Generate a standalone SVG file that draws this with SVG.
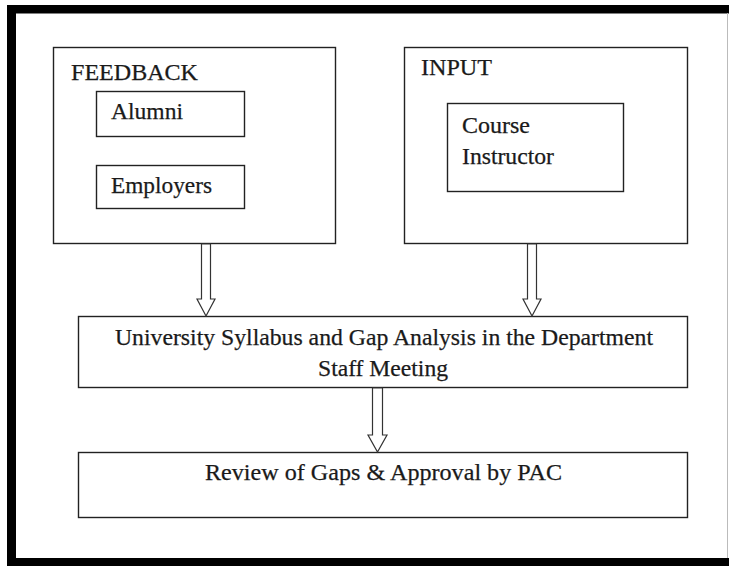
<svg xmlns="http://www.w3.org/2000/svg" width="729" height="566" viewBox="0 0 729 566">
<style>
.box{fill:#fff;stroke:#222;stroke-width:1.4}
.arr{fill:#fff;stroke:#333;stroke-width:1.2;stroke-linejoin:miter}
.t{font-family:'Liberation Serif','Times New Roman',serif;font-size:24px;fill:#1a1a1a;stroke:#1a1a1a;stroke-width:0.25}
</style>
<rect x="0" y="0" width="729" height="566" fill="#fff"/>
<g id="frame">
<rect x="7" y="5" width="9" height="561" fill="#000"/>
<rect x="7" y="5" width="722" height="8.5" fill="#000"/>
<rect x="7" y="558" width="722" height="8" fill="#000"/>
<line x1="727.5" y1="13" x2="727.5" y2="558" stroke="#bbb" stroke-width="1"/>
</g>
<g id="feedback">
<rect class="box" x="53.5" y="47.5" width="282" height="196"/>
<text class="t" x="71" y="80" textLength="127" lengthAdjust="spacingAndGlyphs">FEEDBACK</text>
</g>
<g id="alumni">
<rect class="box" x="96.5" y="91.5" width="148" height="45"/>
<text class="t" x="111" y="119" textLength="72" lengthAdjust="spacingAndGlyphs">Alumni</text>
</g>
<g id="employers">
<rect class="box" x="96.5" y="165.5" width="148" height="43"/>
<text class="t" x="111" y="193" textLength="101" lengthAdjust="spacingAndGlyphs">Employers</text>
</g>
<g id="input">
<rect class="box" x="404.5" y="47.5" width="283" height="196"/>
<text class="t" x="421" y="75" textLength="71" lengthAdjust="spacingAndGlyphs">INPUT</text>
</g>
<g id="course-instructor">
<rect class="box" x="447.5" y="103.5" width="176" height="88"/>
<text class="t" x="462" y="133" textLength="68" lengthAdjust="spacingAndGlyphs">Course</text>
<text class="t" x="462" y="164" textLength="92" lengthAdjust="spacingAndGlyphs">Instructor</text>
</g>
<g id="syllabus">
<rect class="box" x="78.5" y="316.5" width="609" height="71"/>
<text class="t" x="115" y="345" textLength="538" lengthAdjust="spacingAndGlyphs">University Syllabus and Gap Analysis in the Department</text>
<text class="t" x="318" y="376" textLength="130" lengthAdjust="spacingAndGlyphs">Staff Meeting</text>
</g>
<g id="review">
<rect class="box" x="78.5" y="452.5" width="609" height="65"/>
<text class="t" x="205" y="480" textLength="357" lengthAdjust="spacingAndGlyphs">Review of Gaps &amp; Approval by PAC</text>
</g>
<g id="connectors">
<polygon class="arr" points="201.5,244 210.5,244 210.5,299 215,299 206,316 197,299 201.5,299"/>
<polygon class="arr" points="527.5,244 536.5,244 536.5,299 541,299 532,316 523,299 527.5,299"/>
<polygon class="arr" points="372.5,388 382.5,388 382.5,435 387,435 377.5,452 368,435 372.5,435"/>
</g>
</svg>
